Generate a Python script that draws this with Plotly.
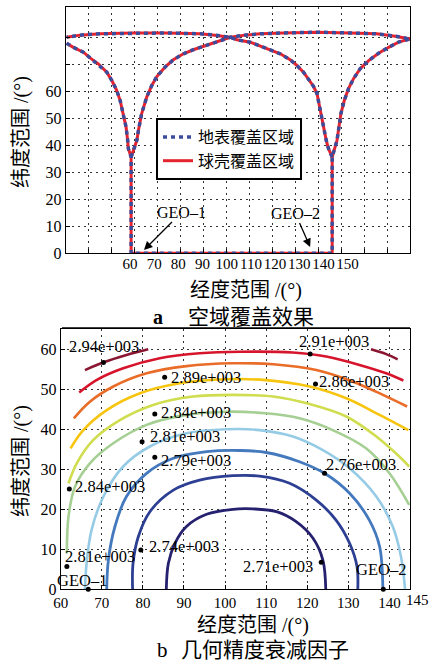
import plotly.graph_objects as go

W, H = 430, 662

# ---------------- Figure a: coverage boundaries ----------------
geo1_x0 = 58.5
geo2_x0 = 146.1

geo1_left_x = [30.4, 33.3, 37.7, 40.6, 44.2, 47.9, 50.1, 52.2, 53.7, 55.1, 56.3, 57.0, 57.3, 58.5]
geo1_left_y = [77.7, 76.2, 74.4, 72.3, 70.1, 67.0, 63.9, 60.3, 56.6, 51.7, 46.7, 41.8, 38.7, 35.6]

geo1_right_x = [58.5, 61.0, 61.7, 63.1, 65.3, 67.5, 69.7, 73.3, 76.9, 81.3, 85.6, 91.5, 97.3, 101.7,
                108.0, 114.7, 124.9, 139.5, 154.0, 165.6, 174.4, 180.2]
geo1_right_y = [35.6, 41.8, 45.5, 51.7, 57.8, 62.1, 65.4, 68.9, 71.6, 73.8, 75.3, 76.9, 78.5, 79.9,
                80.7, 81.2, 81.5, 81.8, 81.5, 81.2, 80.2, 79.2]

geo2_left_x = [146.1, 144.5, 143.5, 142.6, 141.6, 140.5, 139.5, 138.0, 135.8, 133.6, 130.7, 127.8,
               123.5, 119.1, 114.7, 110.4, 104.6, 101.7, 95.0, 88.6, 74.0, 59.5, 45.0, 36.2, 30.4]
geo2_left_y = [35.6, 38.7, 41.8, 45.5, 50.4, 55.4, 59.0, 61.7, 64.6, 67.0, 69.5, 71.6,
               73.8, 75.3, 76.9, 78.1, 79.0, 79.9, 80.7, 81.2, 81.5, 81.5, 81.2, 80.7, 79.9]

geo2_right_x = [146.1, 148.2, 148.9, 149.9, 151.4, 153.2, 155.4, 158.3, 162.0, 166.3, 170.7, 175.0, 180.2]
geo2_right_y = [35.6, 41.8, 46.7, 51.7, 56.6, 60.9, 64.6, 68.3, 71.3, 74.0, 76.2, 78.1, 79.3]

a_x_ticks = [60, 70, 80, 90, 100, 110, 120, 130, 140, 150]
a_y_ticks = [0, 10, 20, 30, 40, 50, 60, 70, 80]
a_y_ticktext = ["0", "10", "20", "30", "40", "50", "60", "", ""]
a_x_grid = [40, 50, 60, 70, 80, 90, 100, 110, 120, 130, 140, 150, 160, 170]

legend_names = ["地表覆盖区域", "球壳覆盖区域"]

# ---------------- Figure b: GDOP contours ----------------
c1_x = [85.7, 86.2, 87.8, 90.6, 95.5, 101.9, 106.8, 112.5, 117.3, 121.4, 123.8, 124.5]
c1_y = [0, 6.5, 11.5, 15.7, 18.75, 20.0, 20.1, 19.4, 16.9, 12.75, 7.3, 0]
c2_x = [77.5, 77.6, 78.9, 81.7, 87.4, 93.8, 101.9, 108.4, 115.7, 122.2, 127.0, 130.3, 132.1, 132.3]
c2_y = [0, 6.5, 13.2, 19.4, 24.8, 27.3, 28.4, 28.3, 26.5, 22.3, 17.3, 11.5, 5.7, 0]
c3_x = [71.2, 71.6, 73.2, 76.0, 80.9, 87.4, 95.5, 103.6, 110.0, 118.1, 124.2, 130.3, 135.1, 137.6, 138.4]
c3_y = [0, 7.3, 15.7, 23.2, 29.0, 32.75, 34.4, 34.7, 34.2, 31.9, 29.0, 24.0, 17.3, 10.7, 0]
c4_x = [65.9, 66.3, 67.5, 70.4, 75.2, 81.7, 90.6, 100.3, 108.4, 116.5, 123.8, 130.3, 136.8, 140.8, 142.8, 143.8]
c4_y = [0, 6.5, 14.8, 23.2, 30.7, 35.7, 39.0, 40.0, 39.8, 38.2, 34.8, 30.25, 23.2, 15.7, 8.2, 0]
c5_x = [61.5, 61.9, 63.5, 67.1, 72.8, 80.9, 90.6, 100.3, 110.0, 118.1, 126.2, 134.3, 140.0, 144.8]
c5_y = [9.0, 18.2, 25.7, 31.5, 36.5, 41.1, 43.6, 44.4, 44.0, 42.75, 39.8, 35.25, 29.0, 21.1]
c6_x = [61.9, 63.9, 67.9, 74.4, 82.5, 92.2, 101.9, 111.7, 120.6, 129.5, 136.8, 142.4, 144.8]
c6_y = [26.5, 31.5, 37.3, 42.3, 46.1, 48.2, 48.6, 48.2, 46.3, 43.2, 38.2, 33.2, 30.7]
c7_x = [62.4, 65.5, 71.2, 79.3, 89.0, 100.3, 110.0, 120.6, 129.5, 137.6, 144.6]
c7_y = [35.25, 39.8, 44.8, 49.0, 51.5, 52.5, 52.3, 50.7, 47.75, 43.6, 39.8]
c8_x = [63.2, 67.1, 72.8, 80.9, 90.6, 101.9, 111.7, 122.2, 131.1, 138.4, 144.3]
c8_y = [42.75, 46.9, 50.7, 54.0, 55.8, 56.5, 56.25, 54.8, 51.9, 48.6, 45.7]
c9_x = [64.5, 68.7, 75.2, 84.1, 93.8, 103.6, 116.5, 124.6, 132.7, 139.2, 143.4]
c9_y = [49.2, 52.3, 55.25, 57.75, 59.0, 59.4, 59.2, 58.2, 56.1, 54.0, 52.2]
c10a_x = [65.9, 70.4, 76.0, 81.3]
c10a_y = [54.8, 56.75, 58.6, 60.0]
c10b_x = [135.5, 139.2, 142.0]
c10b_y = [60.0, 58.8, 57.5]

contour_colors = ["#25216f", "#2c3f92", "#4479bd", "#96cbe6", "#a5cf93", "#cfdd4e",
                  "#f7c510", "#e96c28", "#d6152c", "#8b1631"]

label_text = ["2.94e+003", "2.91e+003", "2.89e+003", "2.86e+003", "2.84e+003", "2.81e+003",
              "2.79e+003", "2.76e+003", "2.84e+003", "2.81e+003", "2.74e+003", "2.71e+003",
              "GEO–1", "GEO–2"]
label_x = [70.5, 126.6, 95.3, 131.3, 93.0, 90.3, 93.0, 133.0, 72.0, 69.6, 89.9, 112.9, 65.3, 138.0]
label_y = [60.6, 61.9, 53.0, 51.9, 44.2, 38.2, 32.2, 31.1, 25.7, 8.3, 10.7, 5.7, 2.3, 5.0]
dot_x = [70.4, 120.7, 85.3, 122.0, 82.9, 79.8, 82.9, 124.2, 62.1, 61.5, 79.5, 123.4, 66.7, 138.5]
dot_y = [56.7, 58.8, 53.0, 51.3, 43.8, 36.9, 33.0, 29.0, 25.1, 5.7, 9.8, 6.75, 0.0, 0.0]

b_x_ticks = [60, 70, 80, 90, 100, 110, 120, 130, 140, 145]
b_x_ticktext = ["60", "70", "80", "90", "100", "110", "120", "130", "140", ""]
b_last_label = "145"
b_y_ticks = [0, 10, 20, 30, 40, 50, 60]

SERIF = "Liberation Serif, Times New Roman, serif"
CJK = "Liberation Serif, Noto Sans CJK SC, sans-serif"

fig = go.Figure()

# outer boundary + two inner arches, joined by None gaps
def build_path():
    xs = geo1_left_x + [geo1_x0, geo2_x0] + geo2_right_x + [None] + geo1_right_x + [None] + geo2_left_x
    ys = geo1_left_y + [0, 0] + geo2_right_y + [None] + geo1_right_y + [None] + geo2_left_y
    return xs, ys

px_, py_ = build_path()
fig.add_trace(go.Scatter(x=px_, y=py_, mode="lines", name=legend_names[1],
                         line=dict(color="#e3242f", width=3), legendrank=2,
                         xaxis="x", yaxis="y"))
fig.add_trace(go.Scatter(x=px_, y=py_, mode="lines", name=legend_names[0],
                         line=dict(color="#3b4c9c", width=3.5, dash="4px,4px"), legendrank=1,
                         xaxis="x", yaxis="y"))
# dummy trace for the label axis
fig.add_trace(go.Scatter(x=[None], y=[None], xaxis="x3", yaxis="y", showlegend=False,
                         hoverinfo="skip"))

# contours in b
cx = [c1_x, c2_x, c3_x, c4_x, c5_x, c6_x, c7_x, c8_x, c9_x, c10a_x]
cy = [c1_y, c2_y, c3_y, c4_y, c5_y, c6_y, c7_y, c8_y, c9_y, c10a_y]
for i, (xx, yy) in enumerate(zip(cx, cy)):
    fig.add_trace(go.Scatter(x=xx, y=yy, mode="lines", showlegend=False,
                             line=dict(color=contour_colors[i], width=2.8 if i < 3 else 2.6,
                                       shape="spline", smoothing=1.0),
                             xaxis="x2", yaxis="y2"))
fig.add_trace(go.Scatter(x=c10b_x, y=c10b_y, mode="lines", showlegend=False,
                         line=dict(color=contour_colors[9], width=2.6, shape="spline"),
                         xaxis="x2", yaxis="y2"))
fig.add_trace(go.Scatter(x=dot_x, y=dot_y, mode="markers", showlegend=False,
                         marker=dict(color="black", size=5), xaxis="x2", yaxis="y2",
                         cliponaxis=False))

annotations = []
for t, x, y in zip(label_text, label_x, label_y):
    annotations.append(dict(text=t, x=x, y=y, xref="x2", yref="y2", showarrow=False,
                            font=dict(family=SERIF, size=16.5, color="black")))

# arrows in a
annotations.append(dict(text="GEO–1", x=64.1, y=1.2, xref="x", yref="y", showarrow=True,
                        ax=38, ay=-38, arrowhead=2, arrowsize=1.3, arrowwidth=1.3,
                        arrowcolor="black", font=dict(family=SERIF, size=16, color="black")))
annotations.append(dict(text="GEO–2", x=136.5, y=2.3, xref="x", yref="y", showarrow=True,
                        ax=-15, ay=-34, arrowhead=2, arrowsize=1.3, arrowwidth=1.3,
                        arrowcolor="black", font=dict(family=SERIF, size=16, color="black")))

def P(px, py):
    return px / W, 1 - py / H

def text_ann(t, px, py, size, angle=0, family=CJK):
    x, y = P(px, py)
    return dict(text=t, x=x, y=y, xref="paper", yref="paper", showarrow=False,
                xanchor="center", yanchor="middle", textangle=angle,
                font=dict(family=family, size=size, color="black"))

annotations += [
    text_ann("经度范围 /(°)", 246, 290, 20),
    text_ann("纬度范围 /(°)", 21, 132, 20, -90),
    text_ann("<b>a</b>", 158, 317, 20),
    text_ann("空域覆盖效果", 251, 317, 21),
    text_ann("经度范围 /(°)", 253, 625, 20),
    text_ann("纬度范围 /(°)", 21, 461, 20, -90),
    text_ann("b", 162, 650, 21),
    text_ann("几何精度衰减因子", 265, 650, 21),
    text_ann(b_last_label, 417, 600, 15, family=SERIF),
]

axis_common = dict(showline=True, mirror=True, linecolor="black", linewidth=1,
                   ticks="inside", ticklen=4, tickcolor="black", zeroline=False,
                   gridcolor="#333", griddash="2px,4px", gridwidth=1, automargin=False,
                   tickfont=dict(family=SERIF, size=16, color="black"))

fig.update_layout(
    width=W, height=H, margin=dict(l=0, r=0, t=0, b=0, autoexpand=False),
    paper_bgcolor="white", plot_bgcolor="white",
    showlegend=True,
    legend=dict(x=156 / W, y=1 - 118 / H, xanchor="left", yanchor="top",
                bordercolor="black", borderwidth=2, bgcolor="white",
                font=dict(family=CJK, size=16, color="black"),
                itemwidth=30, tracegroupgap=0),
    xaxis=dict(domain=[65.7 / W, 410 / W], anchor="y", range=[30, 180],
               tickvals=a_x_grid, showticklabels=False, showgrid=True, **axis_common),
    xaxis3=dict(overlaying="x", anchor="y", side="bottom", range=[33.4, 175.8],
                tickvals=a_x_ticks, showgrid=False, showline=False, ticks="",
                zeroline=False, tickangle=0, automargin=False,
                tickfont=dict(family=SERIF, size=15, color="black")),
    yaxis=dict(domain=[1 - 253.3 / H, 1 - 7.3 / H], anchor="x", range=[0, 91],
               tickvals=a_y_ticks, ticktext=a_y_ticktext, showgrid=True, **axis_common),
    xaxis2=dict(domain=[60.7 / W, 410 / W], anchor="y2", range=[60, 145],
                tickvals=b_x_ticks, ticktext=b_x_ticktext, showgrid=True, tickangle=0,
                **{**axis_common, "tickfont": dict(family=SERIF, size=15, color="black")}),
    yaxis2=dict(domain=[1 - 589.3 / H, 1 - 329.3 / H], anchor="x2", range=[0, 65],
                tickvals=b_y_ticks, showgrid=True, **axis_common),
    annotations=annotations,
    shapes=[dict(type="line", xref="paper", yref="paper",
                 x0=62 / W, x1=410 / W, y0=1 - 328 / H, y1=1 - 328 / H,
                 line=dict(color="black", width=1.5))],
)

fig.write_html("out.html", config={"displayModeBar": False},
               post_script="document.body.style.margin='0';document.body.style.overflow='hidden';")
